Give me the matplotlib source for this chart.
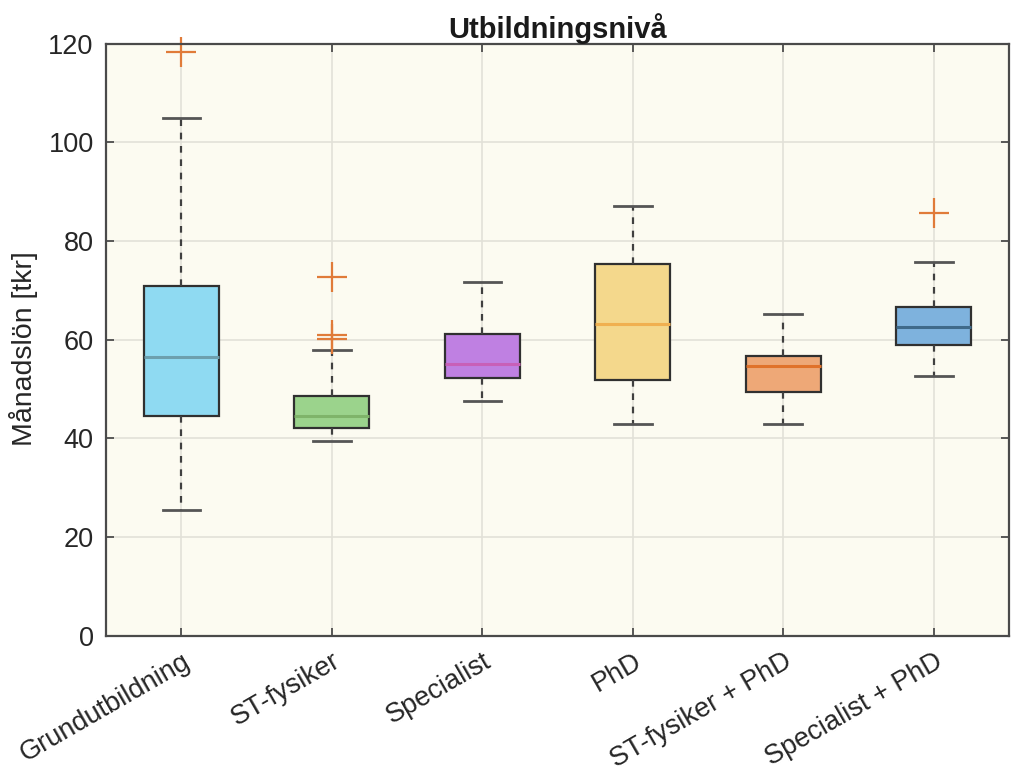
#! /usr/bin/env python3

# box plot of monthly salary per education level
import matplotlib
matplotlib.use("Agg")
import matplotlib.pyplot as plt

# data (tkr)
categories = ["Grundutbildning", "ST-fysiker", "Specialist", "PhD",
              "ST-fysiker + PhD", "Specialist + PhD"]
q1 = [44.6, 42.2, 52.2, 51.8, 49.3, 58.9]
med = [56.4, 44.5, 55.0, 63.1, 54.7, 62.5]
q3 = [70.9, 48.5, 61.1, 75.3, 56.7, 66.7]
whislo = [25.4, 39.4, 47.5, 43.0, 43.0, 52.7]
whishi = [105.0, 58.0, 71.7, 87.1, 65.2, 75.7]
fliers = [[118.4], [72.7, 61.0, 60.1], [], [], [], [85.6]]

face_colors = ["#8fdaf2", "#9bd38c", "#bf80e2", "#f4d88c", "#eea877", "#7eb2dd"]
median_colors = ["#6d9fae", "#7fb46a", "#c860b8", "#f0b050", "#e0722a", "#3f6a8a"]

plt.rcParams["font.family"] = ["Liberation Sans", "DejaVu Sans"]

fig = plt.figure(figsize=(10.11, 7.8), dpi=100)
ax = fig.add_axes([0.105, 0.185, 0.893, 0.759])
ax.set_facecolor("#fcfbf1")

stats = []
for i, name in enumerate(categories):
    stats.append(dict(label=name, q1=q1[i], med=med[i], q3=q3[i],
                      whislo=whislo[i], whishi=whishi[i], fliers=fliers[i]))

bp = ax.bxp(stats, positions=range(1, len(categories) + 1), widths=0.5,
            patch_artist=True, showfliers=True,
            boxprops=dict(edgecolor="#303030", linewidth=1.6),
            whiskerprops=dict(color="#404040", linestyle=(0, (3, 3)), linewidth=1.6),
            capprops=dict(color="#555555", linewidth=2.0),
            flierprops=dict(marker="+", markersize=22, markeredgewidth=1.6,
                            markeredgecolor="#e07b39", linestyle="none"),
            medianprops=dict(linewidth=2.2),
            capwidths=0.25)

for patch, fc in zip(bp["boxes"], face_colors):
    patch.set_facecolor(fc)
for line, mc in zip(bp["medians"], median_colors):
    line.set_color(mc)
for fl in bp["fliers"]:
    fl.set_clip_on(False)

ax.set_xlim(0.5, 6.5)
ax.set_ylim(0, 120)
ax.set_yticks([0, 20, 40, 60, 80, 100, 120])
ax.set_xticks(range(1, len(categories) + 1))
ax.set_xticklabels(categories, rotation=30, ha="right", rotation_mode="anchor")

ax.grid(True, color="#e2e1d8", linewidth=1.2)
ax.set_axisbelow(True)
ax.tick_params(direction="in", length=6, width=1.2, colors="#404040",
               labelsize=19.5, labelcolor="#262626", top=True, right=True, pad=9)
for s in ax.spines.values():
    s.set_color("#4a4a4a")
    s.set_linewidth(1.6)

ax.set_ylabel("Månadslön [tkr]", fontsize=20.5, color="#262626", labelpad=6)
ax.yaxis.set_label_coords(-0.075, 0.485)
ax.set_title("Utbildningsnivå", fontsize=21, fontweight="bold", color="#1a1a1a", pad=4)

fig.savefig("out.png", dpi=100, facecolor="white")
